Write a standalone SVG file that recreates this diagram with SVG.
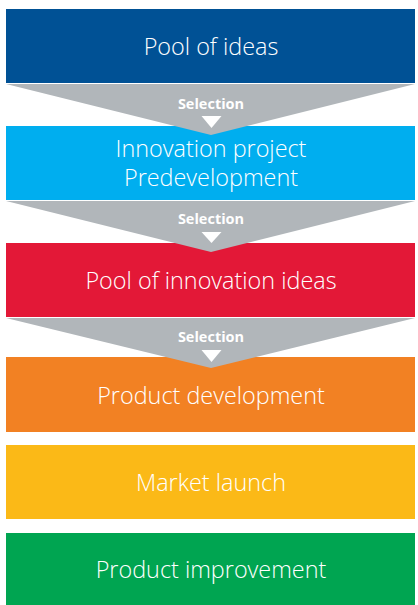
<svg xmlns="http://www.w3.org/2000/svg" width="418" height="605" viewBox="0 0 418 605">
<style>
.t{font-family:"Open Sans","Liberation Sans",sans-serif;font-size:23.4px;font-weight:300;fill:#fff;text-anchor:middle}
.s{font-family:"Open Sans","Liberation Sans",sans-serif;font-size:14.5px;font-weight:700;fill:#fff;text-anchor:middle}
.f{fill:#b1b6ba}
</style>
<rect width="418" height="605" fill="#fff"/>
<g id="box1"><rect x="6" y="9" width="409" height="74" fill="#005195"/><text class="t" x="211" y="55">Pool of ideas</text></g>
<g id="box2"><rect x="6" y="126" width="409" height="74" fill="#00aeef"/><text class="t" x="211" y="157">Innovation project</text><text class="t" x="211" y="186">Predevelopment</text></g>
<g id="box3"><rect x="6" y="243" width="409" height="74" fill="#e31837"/><text class="t" x="211" y="289">Pool of innovation ideas</text></g>
<g id="box4"><rect x="6" y="357" width="409" height="75" fill="#f28123"/><text class="t" x="211" y="404">Product development</text></g>
<g id="box5"><rect x="6" y="445" width="409" height="74" fill="#fbb917"/><text class="t" x="211" y="491">Market launch</text></g>
<g id="box6"><rect x="6" y="533" width="409" height="72" fill="#00a551"/><text class="t" x="211" y="578">Product improvement</text></g>
<g id="connectors">
<g id="sel1"><polygon class="f" points="6,84 415,84 211,135"/><text class="s" x="211" y="109">Selection</text><polygon points="201.5,116 221.5,116 211.5,128" fill="#fff"/></g>
<g id="sel2"><polygon class="f" points="6,201 415,201 211,252"/><text class="s" x="211" y="224">Selection</text><polygon points="201.5,232 221.5,232 211.5,243" fill="#fff"/></g>
<g id="sel3"><polygon class="f" points="6,318 415,318 211,368"/><text class="s" x="211" y="342">Selection</text><polygon points="201.5,350 221.5,350 211.5,362" fill="#fff"/></g>
</g>
</svg>
